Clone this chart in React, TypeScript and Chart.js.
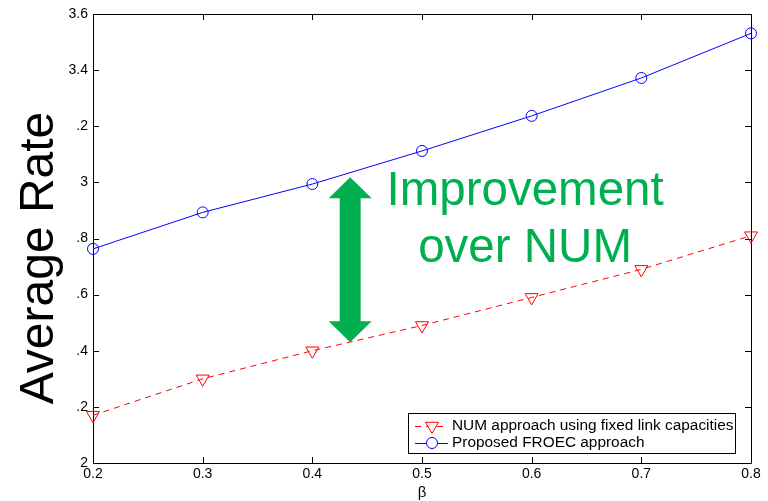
import React, { useEffect, useRef } from "react";
import { Chart, registerables } from "chart.js";

Chart.register(...registerables);

// ---- data ----
const betaValues = [0.2, 0.3, 0.4, 0.5, 0.6, 0.7, 0.8];
const numRates = [2.17, 2.3, 2.4, 2.49, 2.59, 2.69, 2.81];
const froecRates = [2.763, 2.893, 2.994, 3.112, 3.237, 3.372, 3.531];
const xTickValues = [0.2, 0.3, 0.4, 0.5, 0.6, 0.7, 0.8];
const xTickLabels = ["0.2", "0.3", "0.4", "0.5", "0.6", "0.7", "0.8"];
const yTickValues = [2, 2.2, 2.4, 2.6, 2.8, 3, 3.2, 3.4, 3.6];
const yTickLabels = ["2", ".2", ".4", ".6", ".8", "3", ".2", "3.4", "3.6"];
const seriesLabels = [
  "NUM approach using fixed link capacities",
  "Proposed FROEC approach",
];
const yTitle = "Average Rate";
const xTitle = "β";
const annotationLines = ["Improvement", "over NUM"];
// annotation anchors (in data units)
const arrowBeta = 0.4345;
const arrowTopRate = 3.018;
const arrowBottomRate = 2.43;
const noteBeta = 0.594;
const noteLineRates = [2.919, 2.716];

const FONT = '"Liberation Sans", Arial, Helvetica, sans-serif';
const GREEN = "#00b050";

const decorPlugin = {
  id: "decor",
  beforeDatasetsDraw(chart: any) {
    const { ctx, chartArea } = chart;
    const { left, right, top, bottom } = chartArea;
    const xs = chart.scales.x;
    const ys = chart.scales.y;
    ctx.save();
    ctx.strokeStyle = "#000";
    ctx.lineWidth = 1;
    ctx.beginPath();
    ctx.rect(Math.round(left) + 0.5, Math.round(top) + 0.5, Math.round(right - left), Math.round(bottom - top));
    ctx.stroke();
    const tl = 6;
    ctx.beginPath();
    xTickValues.forEach((v) => {
      const px = Math.round(xs.getPixelForValue(v)) + 0.5;
      ctx.moveTo(px, bottom);
      ctx.lineTo(px, bottom - tl);
      ctx.moveTo(px, top);
      ctx.lineTo(px, top + tl);
    });
    yTickValues.forEach((v) => {
      const py = Math.round(ys.getPixelForValue(v)) + 0.5;
      ctx.moveTo(left, py);
      ctx.lineTo(left + tl, py);
      ctx.moveTo(right, py);
      ctx.lineTo(right - tl, py);
    });
    ctx.stroke();
    ctx.restore();
  },
  afterDraw(chart: any) {
    const { ctx, chartArea } = chart;
    const xs = chart.scales.x;
    const ys = chart.scales.y;
    ctx.save();

    // y title
    ctx.save();
    ctx.fillStyle = "#000";
    ctx.font = `48px ${FONT}`;
    ctx.textAlign = "center";
    ctx.textBaseline = "alphabetic";
    ctx.translate(53, 258);
    ctx.rotate(-Math.PI / 2);
    ctx.fillText(yTitle, 0, 0);
    ctx.restore();

    // x title
    ctx.fillStyle = "#000";
    ctx.font = `15px ${FONT}`;
    ctx.textAlign = "center";
    ctx.textBaseline = "middle";
    ctx.fillText(xTitle, (chartArea.left + chartArea.right) / 2, 493);

    // arrow
    const cx = xs.getPixelForValue(arrowBeta);
    const ty = ys.getPixelForValue(arrowTopRate);
    const by = ys.getPixelForValue(arrowBottomRate);
    const hw = 21.5, hl = 21, sw = 10.5;
    ctx.fillStyle = GREEN;
    ctx.beginPath();
    ctx.moveTo(cx, ty);
    ctx.lineTo(cx + hw, ty + hl);
    ctx.lineTo(cx + sw, ty + hl);
    ctx.lineTo(cx + sw, by - hl);
    ctx.lineTo(cx + hw, by - hl);
    ctx.lineTo(cx, by);
    ctx.lineTo(cx - hw, by - hl);
    ctx.lineTo(cx - sw, by - hl);
    ctx.lineTo(cx - sw, ty + hl);
    ctx.lineTo(cx - hw, ty + hl);
    ctx.closePath();
    ctx.fill();

    // annotation text
    ctx.font = `47.5px ${FONT}`;
    ctx.textAlign = "center";
    ctx.textBaseline = "alphabetic";
    const nx = xs.getPixelForValue(noteBeta);
    annotationLines.forEach((t, i) => {
      ctx.fillText(t, nx, ys.getPixelForValue(noteLineRates[i]));
    });

    // legend
    const lx = 408.5, ly = 413.5, lw = 327, lh = 40;
    ctx.fillStyle = "#fff";
    ctx.fillRect(lx, ly, lw, lh);
    ctx.strokeStyle = "#000";
    ctx.lineWidth = 1;
    ctx.strokeRect(lx, ly, lw, lh);
    const rows = [426, 443];
    const ds = chart.data.datasets;
    ds.forEach((d: any, i: number) => {
      const y = rows[i];
      ctx.save();
      ctx.strokeStyle = d.borderColor;
      ctx.lineWidth = 1;
      ctx.setLineDash(d.borderDash || []);
      ctx.beginPath();
      ctx.moveTo(415, y + 0.5);
      ctx.lineTo(448, y + 0.5);
      ctx.stroke();
      ctx.setLineDash([]);
      ctx.beginPath();
      if (d.pointStyle === "triangle") {
        const r = d.pointRadius;
        ctx.moveTo(432 - r * 0.866, y - r * 0.5);
        ctx.lineTo(432 + r * 0.866, y - r * 0.5);
        ctx.lineTo(432, y + r);
        ctx.closePath();
      } else {
        ctx.arc(432, y, d.pointRadius, 0, Math.PI * 2);
      }
      ctx.fillStyle = "#fff";
      ctx.fill();
      ctx.stroke();
      ctx.restore();
      ctx.fillStyle = "#000";
      ctx.font = `15.4px ${FONT}`;
      ctx.textAlign = "left";
      ctx.textBaseline = "middle";
      ctx.fillText(d.label, 452, y);
    });

    ctx.restore();
  },
};

export default function App() {
  const ref = useRef<HTMLCanvasElement | null>(null);
  useEffect(() => {
    if (!ref.current) return;
    const chart = new Chart(ref.current, {
      type: "line",
      data: {
        datasets: [
          {
            label: seriesLabels[0],
            data: betaValues.map((b, i) => ({ x: b, y: numRates[i] })),
            borderColor: "#ff0000",
            borderWidth: 1,
            borderDash: [6, 5],
            pointStyle: "triangle",
            pointRotation: 180,
            pointRadius: 7.5,
            pointBorderColor: "#ff0000",
            pointBackgroundColor: "rgba(0,0,0,0)",
            pointBorderWidth: 1,
            tension: 0,
            clip: false,
          } as any,
          {
            label: seriesLabels[1],
            data: betaValues.map((b, i) => ({ x: b, y: froecRates[i] })),
            borderColor: "#0000ff",
            borderWidth: 1,
            pointStyle: "circle",
            pointRadius: 5.5,
            pointBorderColor: "#0000ff",
            pointBackgroundColor: "rgba(0,0,0,0)",
            pointBorderWidth: 1,
            tension: 0,
            clip: false,
          } as any,
        ],
      },
      options: {
        animation: false,
        responsive: false,
        events: [],
        layout: { padding: { top: 14, right: 17, left: 0, bottom: 0 } },
        plugins: { legend: { display: false }, tooltip: { enabled: false }, title: { display: false } },
        scales: {
          x: {
            type: "linear",
            min: 0.2,
            max: 0.8,
            grid: { display: false, drawTicks: false },
            border: { display: false },
            afterBuildTicks: (s: any) => {
              s.ticks = xTickValues.map((v) => ({ value: v }));
            },
            afterFit: (s: any) => {
              s.height = 38;
            },
            ticks: {
              padding: 3,
              maxRotation: 0,
              autoSkip: false,
              color: "#000",
              font: { family: FONT, size: 14 },
              callback: (_v: any, i: number) => xTickLabels[i],
            },
          },
          y: {
            type: "linear",
            min: 2,
            max: 3.6,
            grid: { display: false, drawTicks: false },
            border: { display: false },
            afterBuildTicks: (s: any) => {
              s.ticks = yTickValues.map((v) => ({ value: v }));
            },
            afterFit: (s: any) => {
              s.width = 93;
            },
            ticks: {
              padding: 5,
              autoSkip: false,
              color: "#000",
              font: { family: FONT, size: 14 },
              callback: (_v: any, i: number) => yTickLabels[i],
            },
          },
        },
      } as any,
      plugins: [decorPlugin],
    });
    return () => chart.destroy();
  }, []);
  return (
    <div style={{ position: "fixed", left: 0, top: 0, width: 768, height: 501, background: "#fff" }}>
      <canvas ref={ref} width={768} height={501} style={{ display: "block" }} />
    </div>
  );
}
